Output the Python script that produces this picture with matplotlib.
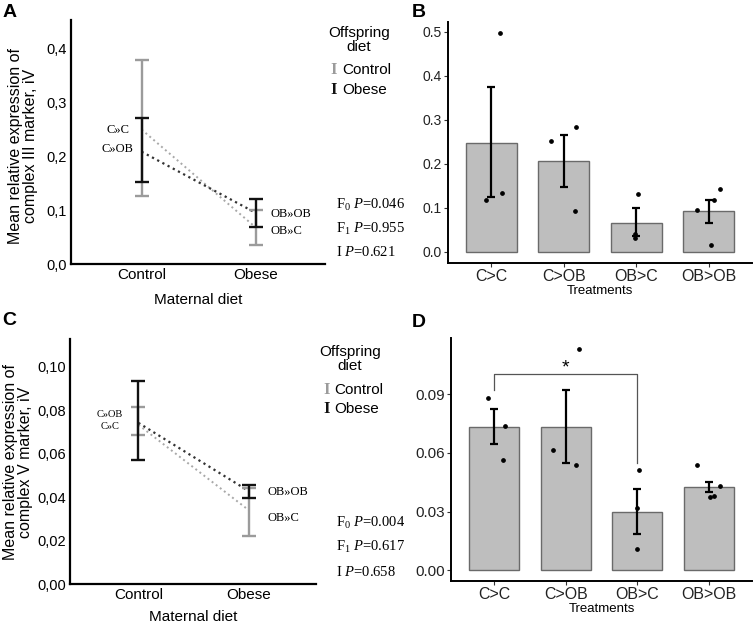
import numpy as np
import matplotlib.pyplot as plt

plt.rcParams["font.family"] = ["Liberation Sans", "DejaVu Sans"]
plt.rcParams["mathtext.fontset"] = "custom"
plt.rcParams["mathtext.rm"] = "Liberation Serif"
plt.rcParams["mathtext.it"] = "Liberation Serif:italic"

# ---- data -------------------------------------------------------------
maternal = ["Control", "Obese"]
treatments = ["C>C", "C>OB", "OB>C", "OB>OB"]

# panel A: complex III, means and error bar ends (offspring control / obese)
a_ctrl_mean = [0.249, 0.068]
a_ctrl_lo = [0.126, 0.036]
a_ctrl_hi = [0.377, 0.100]
a_obese_mean = [0.208, 0.095]
a_obese_lo = [0.151, 0.069]
a_obese_hi = [0.270, 0.121]
a_yticks = [0.0, 0.1, 0.2, 0.3, 0.4]
a_yticklabels = ["0,0", "0,1", "0,2", "0,3", "0,4"]
a_stats = ["0.046", "0.955", "0.621"]

# panel B
b_mean = [0.2485, 0.2057, 0.066, 0.0923]
b_lo = [0.1246, 0.148, 0.0353, 0.0668]
b_hi = [0.375, 0.2665, 0.0988, 0.1186]
b_points = [[0.1186, 0.1336, 0.496],
            [0.2523, 0.283, 0.0938],
            [0.1314, 0.0413, 0.0315],
            [0.0946, 0.1186, 0.1426, 0.0165]]
b_jitter = [[-0.08, 0.15, 0.12],
            [-0.18, 0.17, 0.15],
            [0.02, -0.01, -0.01],
            [-0.16, 0.07, 0.16, 0.03]]
b_yticks = [0.0, 0.1, 0.2, 0.3, 0.4, 0.5]
b_yticklabels = ["0.0", "0.1", "0.2", "0.3", "0.4", "0.5"]

# panel C: complex V
c_ctrl_mean = [0.0733, 0.034]
c_ctrl_lo = [0.0684, 0.0221]
c_ctrl_hi = [0.0816, 0.0443]
c_obese_mean = [0.0742, 0.0428]
c_obese_lo = [0.0569, 0.0397]
c_obese_hi = [0.0934, 0.0455]
c_yticks = [0.0, 0.02, 0.04, 0.06, 0.08, 0.10]
c_yticklabels = ["0,00", "0,02", "0,04", "0,06", "0,08", "0,10"]
c_stats = ["0.004", "0.617", "0.658"]

# panel D
d_mean = [0.0734, 0.0734, 0.0299, 0.0425]
d_lo = [0.0644, 0.0546, 0.0184, 0.0400]
d_hi = [0.0823, 0.0920, 0.0413, 0.0451]
d_points = [[0.0879, 0.0738, 0.0563],
            [0.0615, 0.054, 0.113],
            [0.0512, 0.0318, 0.0108],
            [0.0536, 0.0432, 0.0382, 0.0372]]
d_jitter = [[-0.08, 0.16, 0.12],
            [-0.18, 0.15, 0.18],
            [0.03, -0.01, -0.01],
            [-0.17, 0.16, 0.07, 0.02]]
d_yticks = [0.0, 0.03, 0.06, 0.09]
d_yticklabels = ["0.00", "0.03", "0.06", "0.09"]
d_bracket = [0.0922, 0.1004, 0.1004, 0.0546]

W, H = 754, 625
fig = plt.figure(figsize=(W / 100, H / 100), dpi=100)


def box(l, t, r, b):
    return [l / W, 1 - b / H, (r - l) / W, (b - t) / H]


GRAY = "#9b9b9b"
BLACK = "#111111"


def interaction(ax, cm, clo, chi, om, olo, ohi, yticks, ylabs, ylim,
                labels, xlab_y):
    x = np.arange(1, len(maternal) + 1)
    ax.plot(x, cm, ls=":", color="#a8a8a8", lw=1.4, zorder=2)
    ax.plot(x, om, ls=":", color="#333333", lw=1.6, zorder=2)
    ax.errorbar(x, cm, yerr=[np.subtract(cm, clo), np.subtract(chi, cm)],
                fmt="none", ecolor=GRAY, elinewidth=1.7, capsize=4.7,
                capthick=1.7, zorder=3)
    ax.errorbar(x, om, yerr=[np.subtract(om, olo), np.subtract(ohi, om)],
                fmt="none", ecolor=BLACK, elinewidth=1.7, capsize=4.7,
                capthick=1.7, zorder=4)
    ax.set_xlim(0.38, 2.61)
    ax.set_ylim(*ylim)
    ax.set_xticks(x)
    ax.set_xticklabels(maternal, fontsize=11)
    ax.set_yticks(yticks)
    ax.set_yticklabels(ylabs, fontsize=10.5)
    ax.tick_params(length=0, pad=3)
    for s in ["top", "right"]:
        ax.spines[s].set_visible(False)
    for s in ["left", "bottom"]:
        ax.spines[s].set_linewidth(1.6)
    ax.set_xlabel("Maternal diet", fontsize=11, va="top")
    ax.xaxis.set_label_coords(0.5, xlab_y)
    for txt, xx, yy, ha, fs in labels:
        ax.text(xx, yy, txt, ha=ha, va="center", fontsize=fs,
                fontfamily="Liberation Serif")


def bars(ax, mean, lo, hi, pts, jit, yticks, ylabs, ylim, yfs):
    x = np.arange(1, len(treatments) + 1)
    ax.bar(x, mean, width=0.7, color="#bebebe", edgecolor="#6a6a6a",
           linewidth=1.0, zorder=1)
    ax.errorbar(x, mean, yerr=[np.subtract(mean, lo), np.subtract(hi, mean)],
                fmt="none", ecolor="black", elinewidth=1.6, capsize=3,
                capthick=1.6, zorder=3)
    for i in range(len(treatments)):
        ax.plot(x[i] + np.array(jit[i]), pts[i], "o", color="black",
                ms=2.4, zorder=4)
    ax.set_xlim(0.4, 4.6)
    ax.set_ylim(*ylim)
    ax.set_xticks(x)
    ax.set_xticklabels(treatments, fontsize=11.5)
    ax.set_yticks(yticks)
    ax.set_yticklabels(ylabs, fontsize=yfs)
    ax.tick_params(length=3, width=0.8, color="#333333", pad=1.5,
                   labelcolor="#222222")
    for s in ["top", "right"]:
        ax.spines[s].set_visible(False)
    for s in ["left", "bottom"]:
        ax.spines[s].set_linewidth(1.4)
    ax.set_xlabel("Treatments", fontsize=9.5, labelpad=0.5)


axA = fig.add_axes(box(71, 20, 325, 264))
interaction(axA, a_ctrl_mean, a_ctrl_lo, a_ctrl_hi,
            a_obese_mean, a_obese_lo, a_obese_hi,
            a_yticks, a_yticklabels, (0, 0.452),
            [("C»C", 0.79, 0.248, "center", 9),
             ("C»OB", 0.79, 0.2126, "center", 9),
             ("OB»OB", 2.13, 0.093, "left", 9),
             ("OB»C", 2.13, 0.062, "left", 9)],
            -0.118)
fig.text(23 / W, 1 - 146 / H,
         "Mean relative expression of\ncomplex III marker, iV",
         rotation=90, ha="center", va="center", fontsize=11.5,
         linespacing=1.0, multialignment="center")

axB = fig.add_axes(box(448, 22, 752, 263))
bars(axB, b_mean, b_lo, b_hi, b_points, b_jitter, b_yticks, b_yticklabels,
     (-0.025, 0.522), 10)

axC = fig.add_axes(box(70, 339, 316, 584))
interaction(axC, c_ctrl_mean, c_ctrl_lo, c_ctrl_hi,
            c_obese_mean, c_obese_lo, c_obese_hi,
            c_yticks, c_yticklabels, (0, 0.1128),
            [("C»OB", 0.74, 0.0779, "center", 7.5),
             ("C»C", 0.74, 0.0727, "center", 7.5),
             ("OB»OB", 2.17, 0.0424, "left", 9),
             ("OB»C", 2.17, 0.0302, "left", 9)],
            -0.105)
fig.text(18 / W, 1 - 462 / H,
         "Mean relative expression of\ncomplex V marker, iV",
         rotation=90, ha="center", va="center", fontsize=11.5,
         linespacing=1.0, multialignment="center")

axD = fig.add_axes(box(451, 338, 752, 581))
bars(axD, d_mean, d_lo, d_hi, d_points, d_jitter, d_yticks, d_yticklabels,
     (-0.0055, 0.1187), 11)
axD.plot([1, 1, 3, 3], d_bracket, color="#555555", lw=0.9, zorder=5)
axD.text(2, 0.0992, "*", ha="center", va="bottom", fontsize=14)

# legends and statistics
for (lx, ly, mx, tx, y1, y2), stats, sy in [
        ((359, 40, 334, 342, 70, 90), a_stats, (205, 229, 252)),
        ((350, 359, 327, 334, 390, 409), c_stats, (523, 547, 572))]:
    fig.text(lx / W, 1 - ly / H, "Offspring\ndiet", ha="center", va="center",
             fontsize=11, linespacing=0.95)
    fig.text(mx / W, 1 - y1 / H, "I", color=GRAY, ha="center", va="center",
             fontsize=12, fontweight="bold", fontfamily="Liberation Serif")
    fig.text(mx / W, 1 - y2 / H, "I", color=BLACK, ha="center", va="center",
             fontsize=12, fontweight="bold", fontfamily="Liberation Serif")
    fig.text(tx / W, 1 - y1 / H, "Control", ha="left", va="center", fontsize=11)
    fig.text(tx / W, 1 - y2 / H, "Obese", ha="left", va="center", fontsize=11)
    fig.text(336 / W, 1 - sy[0] / H, r"F$_0$ $\mathit{P}$=" + stats[0],
             ha="left", va="center", fontsize=10.5, fontfamily="Liberation Serif")
    fig.text(336 / W, 1 - sy[1] / H, r"F$_1$ $\mathit{P}$=" + stats[1],
             ha="left", va="center", fontsize=10.5, fontfamily="Liberation Serif")
    fig.text(336 / W, 1 - sy[2] / H, r"I $\mathit{P}$=" + stats[2],
             ha="left", va="center", fontsize=10.5, fontfamily="Liberation Serif")

for letter, lx, ty in [("A", 3, 4), ("B", 412, 4), ("C", 2, 312), ("D", 412, 314)]:
    fig.text(lx / W, 1 - ty / H, letter, ha="left", va="top", fontsize=14,
             fontweight="bold")

fig.savefig("out.png", dpi=100)
